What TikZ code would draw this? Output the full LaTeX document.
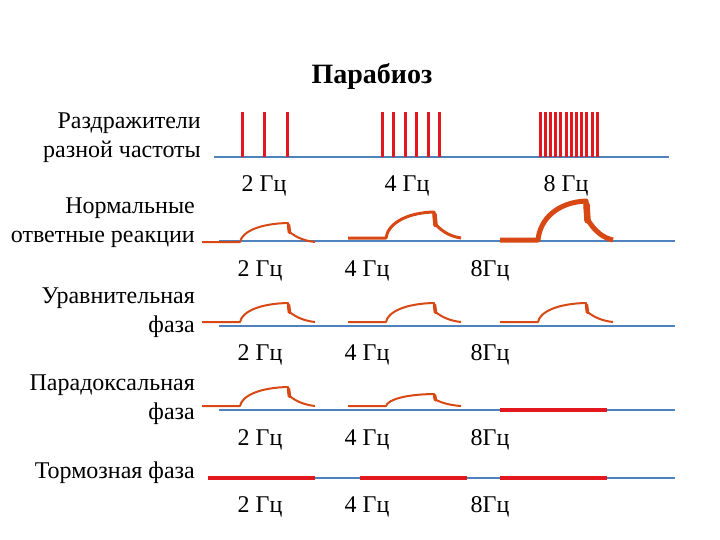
\documentclass[tikz,border=0pt]{standalone}
\usepackage{fontspec}
\setmainfont{Liberation Serif}
\usetikzlibrary{positioning}
\definecolor{osnova}{RGB}{79,129,189}
\definecolor{stimred}{RGB}{226,24,30}
\definecolor{otvet}{RGB}{216,72,20}

\tikzset{
  base/.style={osnova, line width=2.5pt},
  stim/.style={stimred, line width=3pt},
  blok/.style={stimred, line width=3.5pt},
  resp/.style={otvet, line width=2pt, line join=round},
  lbl/.style={font=\fontsize{24}{29}\selectfont, inner sep=0pt, align=right, anchor=east},
  hz/.style={font=\fontsize{24}{28}\selectfont, inner sep=0pt}
}

% ответная реакция: #1 начало по x, #2 уровень, #3 высота, #4 толщина
\newcommand{\otvetcurve}[4]{%
  \draw[resp, line width=#4] (#1,#2) -- ({#1+38},#2)
    .. controls ({#1+40},{#2-0.55*#3}) and ({#1+58},{#2-0.97*#3}) .. ({#1+86},{#2-#3})
    -- ({#1+87},{#2-0.55*#3})
    .. controls ({#1+95},{#2-0.2*#3}) and ({#1+104},{#2-0.05*#3}) .. ({#1+113},#2);
  \draw[resp, line width=#4+1.5pt, line cap=round] ({#1+86.5},{#2-0.9*#3}) -- ({#1+87.5},{#2-0.5*#3});
}

\begin{document}
\begin{tikzpicture}[x=1pt, y=-1pt]
  \useasboundingbox (0,0) rectangle (720,540);

  % Заголовок
  \node[font=\fontsize{28}{32}\selectfont\bfseries, inner sep=0pt] (title) at (372,76) {Парабиоз};

  % Подписи слева
  \node[lbl] (razdr) at (201,138) {Раздражители\\разной частоты};
  \node[lbl] (norm) at (195,223) {Нормальные\\ответные реакции};
  \node[lbl] (uravn) at (195,313) {Уравнительная\\фаза};
  \node[lbl] (parad) at (195,400) {Парадоксальная\\фаза};
  \node[lbl] (torm) at (195,473) {Тормозная фаза};

  % Базовые линии
  \draw[base] (214,157) -- (669,157);
  \draw[base] (219,241) -- (675,241);
  \draw[base] (219,326) -- (675,326);
  \draw[base] (219,410) -- (675,410);
  \draw[base] (208,478) -- (675,478);

  % Раздражители
  \foreach \x in {242,264,287}
    \draw[stim] (\x,157) -- (\x,112);
  \foreach \x in {382,393.5,405,416.5,428,439.5}
    \draw[stim] (\x,157) -- (\x,112);
  \foreach \i in {0,...,11}
    \draw[stim] ({540+\i*5.2},157) -- ({540+\i*5.2},112);

  % Нормальные ответные реакции
  \otvetcurve{202}{242}{19}{2pt}
  \otvetcurve{348}{238}{26}{3pt}
  \otvetcurve{500}{240}{39}{5pt}

  % Уравнительная фаза
  \foreach \x in {202,348,500} {
    \otvetcurve{\x}{322}{19}{2pt}
  }

  % Парадоксальная фаза
  \otvetcurve{202}{406}{19}{2pt}
  \otvetcurve{348}{406}{12}{2pt}
  \draw[blok] (500,410) -- (607,410);

  % Тормозная фаза
  \foreach \x in {208,360,500}
    \draw[blok] (\x,478) -- ({\x+107},478);

  % Частоты
  \node[hz] (f1a) at (264,186) {2 Гц};
  \node[hz] (f1b) at (407,186) {4 Гц};
  \node[hz] (f1c) at (566,186) {8 Гц};
  \foreach \r/\y in {2/271,3/355,4/440,5/507} {
    \node[hz] (f\r a) at (260,\y) {2 Гц};
    \node[hz] (f\r b) at (367,\y) {4 Гц};
    \node[hz] (f\r c) at (490,\y) {8Гц};
  }
\end{tikzpicture}
\end{document}
